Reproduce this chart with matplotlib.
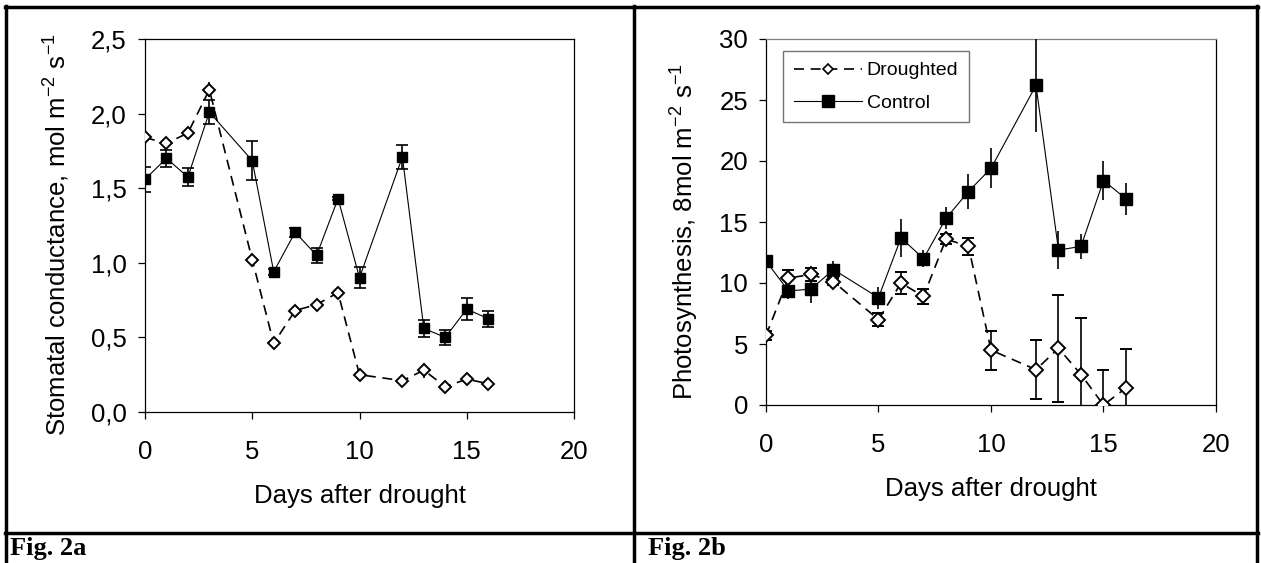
import matplotlib as mp
mp.use('Agg')
import matplotlib.pyplot as plt
from matplotlib.lines import Line2D

plt.rcParams['font.family'] = ['Liberation Sans', 'DejaVu Sans']

# days of measurement
days = [0, 1, 2, 3, 5, 6, 7, 8, 9, 10, 12, 13, 14, 15, 16]

# Fig. 2a - stomatal conductance
gs_drought = [1.84, 1.80, 1.87, 2.16, 1.02, 0.46, 0.68, 0.72, 0.80, 0.25, 0.21, 0.28, 0.17, 0.22, 0.19]
gs_drought_err = [0.03, 0.03, 0.03, 0.05, 0.04, 0.03, 0.03, 0.02, 0.03, 0.03, 0.02, 0.05, 0.03, 0.04, 0.03]
gs_control = [1.56, 1.70, 1.575, 2.01, 1.685, 0.94, 1.205, 1.05, 1.43, 0.90, 1.71, 0.56, 0.50, 0.69, 0.625]
gs_control_err = [0.085, 0.055, 0.06, 0.08, 0.13, 0.02, 0.03, 0.05, 0.01, 0.07, 0.08, 0.055, 0.05, 0.075, 0.055]

# Fig. 2b - photosynthesis
ps_drought = [5.7, 10.4, 10.7, 10.1, 7.0, 10.0, 8.9, 13.6, 13.0, 4.5, 2.9, 4.65, 2.5, 0.0, 1.4]
ps_drought_err = [0.4, 0.7, 0.5, 0.3, 0.55, 0.9, 0.6, 0.4, 0.7, 1.6, 2.4, 4.4, 4.6, 2.9, 3.15]
ps_control = [11.8, 9.35, 9.5, 11.1, 8.8, 13.7, 12.0, 15.3, 17.5, 19.4, 26.2, 12.7, 13.0, 18.4, 16.9]
ps_control_err = [1.4, 0.7, 1.1, 0.7, 0.9, 1.55, 0.7, 0.9, 1.4, 1.65, 3.8, 1.55, 1.05, 1.6, 1.3]

xticks = [0, 5, 10, 15, 20]
gs_ticks = [0, 0.5, 1.0, 1.5, 2.0, 2.5]
gs_ticklabels = ['0,0', '0,5', '1,0', '1,5', '2,0', '2,5']
ps_ticks = [0, 5, 10, 15, 20, 25, 30]

W, H = 1261, 563
FS = 18.5
fig = plt.figure(figsize=(W / 100, H / 100), dpi=100)

def style(ax):
    ax.set_xlim(0, 20)
    ax.set_xticks(xticks)
    ax.tick_params(direction='out', length=5, width=0.9, labelsize=FS)
    ax.tick_params(axis='x', pad=15.5)
    ax.tick_params(axis='y', pad=8)
    for s in ax.spines.values():
        s.set_linewidth(0.9)
    ax.set_xlabel('Days after drought', fontsize=FS)

def draw(ax, yd, ed, yc, ec, dcap, ccap, dms, cms):
    ax.errorbar(days, yc, yerr=ec, fmt='-', color='black', lw=0.8,
                marker='s', ms=cms, mfc='black', mec='black',
                ecolor='black', elinewidth=1.2, capsize=ccap, capthick=1.2,
                label='Control', zorder=3)
    ax.errorbar(days, yd, yerr=ed, fmt='--', color='black', lw=1.2,
                dashes=(6, 4), marker='D', ms=dms, mfc='white', mec='black',
                mew=1.4, ecolor='black', elinewidth=1.2, capsize=dcap,
                capthick=1.2, label='Droughted', zorder=4)

# left panel
ax1 = fig.add_axes([145 / W, 1 - 412 / H, 429 / W, 373 / H])
draw(ax1, gs_drought, gs_drought_err, gs_control, gs_control_err, 0, 4.5, 6.5, 7.5)
style(ax1)
ax1.set_ylim(0, 2.5)
ax1.set_yticks(gs_ticks)
ax1.set_yticklabels(gs_ticklabels)
ax1.set_ylabel('Stomatal conductance, mol m$^{\\mathregular{-2}}$ s$^{\\mathregular{-1}}$', fontsize=FS)
ax1.yaxis.set_label_coords(-0.172, 0.476)
ax1.xaxis.set_label_coords(0.5, -0.193)

# right panel
ax2 = fig.add_axes([766 / W, 1 - 405 / H, 450 / W, 366 / H])
draw(ax2, ps_drought, ps_drought_err, ps_control, ps_control_err, 4, 0, 7, 8.5)
style(ax2)
ax2.set_ylim(0, 30)
ax2.set_yticks(ps_ticks)
ax2.spines['top'].set_color('0.5')
ax2.set_ylabel('Photosynthesis, 8mol m$^{\\mathregular{-2}}$ s$^{\\mathregular{-1}}$', fontsize=FS)
ax2.yaxis.set_label_coords(-0.147, 0.475)
ax2.xaxis.set_label_coords(0.5, -0.197)

h_d = Line2D([], [], color='black', lw=1.2, ls='--', dashes=(6, 4), marker='D',
             ms=5, mfc='white', mec='black', mew=1.2)
h_c = Line2D([], [], color='black', lw=0.8, marker='s', ms=8, mfc='black', mec='black')
leg = ax2.legend([h_d, h_c], ['Droughted', 'Control'], loc='upper left',
                 bbox_to_anchor=(0.038, 0.967), borderaxespad=0, fontsize=14,
                 handlelength=3.5, fancybox=False, framealpha=1, edgecolor='0.45',
                 borderpad=0.55, labelspacing=0.75, handletextpad=0.25)
leg.get_frame().set_linewidth(1.0)

# table borders
def hline(y, x0, x1, lw=2.5):
    fig.add_artist(Line2D([x0 / W, x1 / W], [1 - y / H, 1 - y / H], color='black', lw=lw))

def vline(x, y0, y1, lw=2.5):
    fig.add_artist(Line2D([x / W, x / W], [1 - y0 / H, 1 - y1 / H], color='black', lw=lw))

hline(7, 5, 1258)
hline(533, 5, 1258)
vline(6, 6, 563)
vline(634, 6, 563)
vline(1257, 6, 563)

fig.text(10 / W, 1 - 549 / H, 'Fig. 2a', fontsize=19, fontweight='bold',
         family=['Liberation Serif'], va='center')
fig.text(648 / W, 1 - 549 / H, 'Fig. 2b', fontsize=19, fontweight='bold',
         family=['Liberation Serif'], va='center')

fig.savefig('out.png', dpi=100)
